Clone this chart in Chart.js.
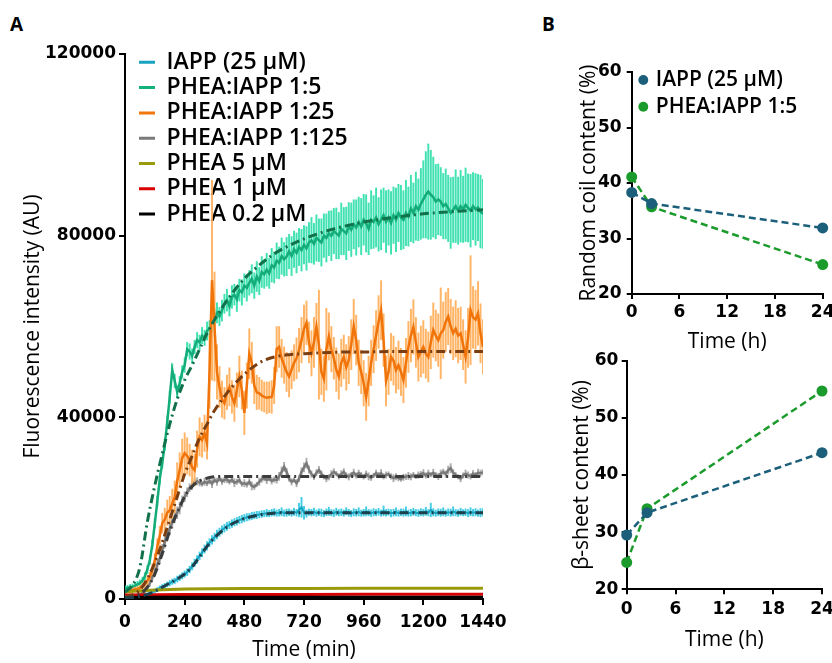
<!DOCTYPE html>
<html><head><meta charset="utf-8">
<script src="https://cdn.jsdelivr.net/npm/chart.js@4.4.1/dist/chart.umd.min.js"></script>
<style>
html,body{margin:0;padding:0;background:#fff;}
body{width:832px;height:663px;position:relative;overflow:hidden;font-family:"Open Sans",sans-serif;}
canvas{position:absolute;}
.lbl{position:absolute;font-family:"Open Sans";font-weight:bold;font-size:19px;line-height:19px;color:#000;}
</style></head><body>
<div class="lbl" style="left:10px;top:15px">A</div>
<div class="lbl" style="left:542px;top:15px">B</div>
<canvas id="cA" width="540" height="663" style="left:0;top:0;width:540px;height:663px"></canvas>
<canvas id="cB1" width="292" height="360" style="left:540px;top:0;width:292px;height:360px"></canvas>
<canvas id="cB2" width="292" height="323" style="left:540px;top:340px;width:292px;height:323px"></canvas>
<script>
// ---------- Panel A data ----------
const time = [0,10,20,30,40,50,60,70,80,90,100,110,120,130,140,150,160,170,180,190,200,210,220,230,240,250,260,270,280,290,300,310,320,330,340,350,360,370,380,390,400,410,420,430,440,450,460,470,480,490,500,510,520,530,540,550,560,570,580,590,600,610,620,630,640,650,660,670,680,690,700,710,720,730,740,750,760,770,780,790,800,810,820,830,840,850,860,870,880,890,900,910,920,930,940,950,960,970,980,990,1000,1010,1020,1030,1040,1050,1060,1070,1080,1090,1100,1110,1120,1130,1140,1150,1160,1170,1180,1190,1200,1210,1220,1230,1240,1250,1260,1270,1280,1290,1300,1310,1320,1330,1340,1350,1360,1370,1380,1390,1400,1410,1420,1430,1440];

const iapp = [200,200,250,300,350,450,550,700,850,1000,
1300,1500,1800,2100,2400,2700,2900,3200,3500,3800,
4000,4400,4700,5100,5500,5900,6500,7200,8000,8700,
9500,10200,11000,11700,12400,13000,13600,14200,14700,15200,
15600,16000,16300,16600,16900,17100,17400,17600,17800,18000,
18100,18300,18400,18500,18600,18700,18800,18900,18800,19000,
19100,18900,19000,19200,18900,19000,19100,18900,19200,19000,
19600,20200,19000,18800,19100,19000,19200,18900,19100,19000,
18800,19100,19300,19000,18900,19200,19000,19100,18900,19300,
19000,18800,19100,19000,19200,18900,19000,19300,19000,18900,
19100,19000,19200,18900,19400,19000,19100,18900,19000,19200,
18900,19100,19000,19300,18900,19000,19200,19000,18900,19100,
19000,19300,19000,19600,19100,18900,19100,19000,19200,18900,
19100,19000,19300,19000,18900,19200,19000,19100,18900,19200,
19000,19100,18900,19000,19100];
const iappErr = [150,150,200,200,200,250,250,300,300,350,
400,400,450,450,500,500,550,550,600,600,
600,650,650,700,700,750,750,800,800,850,
850,900,900,950,900,950,900,950,900,900,
850,900,800,850,800,850,800,850,800,800,
750,800,750,800,700,750,700,800,700,750,
800,700,750,900,700,800,750,700,800,750,
1500,2200,1400,800,700,750,800,700,750,800,
700,750,900,700,750,800,700,750,700,800,
750,700,800,750,900,700,750,1000,700,750,
800,700,750,700,1100,750,700,800,750,900,
700,750,800,1000,700,750,800,700,750,800,
750,900,700,1500,800,700,750,800,900,700,
750,800,1000,700,750,800,700,750,800,900,
750,800,700,900,800];

const phea15 = [2400,2500,2600,2700,2900,3200,3500,4000,5000,6500,
8600,12000,16700,21500,26500,30000,34000,39000,44500,50400,
48000,45600,47500,50000,51500,55000,54500,53500,55500,57000,
56500,58000,57500,59000,59500,60500,62000,63000,62200,63500,
65000,65800,64500,66500,67000,66000,68000,67500,69000,68500,
69600,70500,69000,71000,70000,72000,71500,72500,71700,73500,
73000,74500,74000,75500,74800,75400,76500,75500,77000,76200,
77500,76800,78000,77200,78500,79000,78200,79500,79000,78500,
80000,79500,80500,80000,81000,80500,80000,81500,81000,80500,
82000,81300,82500,81800,83000,82000,83500,82700,81500,83500,
83000,84000,82500,83500,84500,83100,84000,82800,84500,83500,
85000,84000,83500,85000,84200,86000,85000,86500,85700,87000,
88000,89000,89700,89000,88500,87500,88000,87500,86500,87000,
86000,85000,85700,86500,85500,86500,85800,86800,86100,85500,
86500,85800,86200,85300,84800];
const phea15Err = [500,500,600,600,600,700,700,800,800,900,
1000,1000,1100,1100,1200,1200,1300,1300,1400,1400,
1500,1300,1500,1400,1600,1500,1700,1600,1500,1700,
1600,1800,1700,2000,1800,2100,1900,2200,2000,2300,
2100,2400,2200,2500,2300,2700,2400,2800,2600,2900,
2700,3100,2800,3300,3000,3400,3100,3600,3300,3700,
3400,3900,3500,4000,3700,4200,3800,4300,4000,4400,
4100,4600,4200,4800,4400,5000,4500,5100,4700,5200,
4800,5300,4900,5500,5000,5600,5100,5700,5200,5800,
5300,5900,5400,6100,5500,6200,5600,6300,5700,6400,
5800,6500,5900,6600,6000,6800,6100,6900,6200,7000,
6300,7100,6400,7200,6500,7300,6600,7500,6800,7800,
8500,9500,10500,9800,8800,8200,7800,7500,7200,7700,
7300,7800,7200,8000,7400,7900,7300,8100,7500,8000,
7400,7900,7300,8000,7600];

const phea125 = [1500,1700,1800,2000,2100,2200,2400,2800,3300,4000,
4900,6500,8500,11500,14000,16700,17500,19000,19600,21000,
22500,26000,28400,31000,32100,31500,30600,29000,28400,33000,
35700,35000,36500,34300,50000,70200,60000,50000,46700,44000,
43100,45500,46700,44500,43100,46000,49000,46000,41000,47000,
54000,52000,47000,45500,45300,44800,44500,44300,44400,44500,
47000,55000,55500,53000,51500,50000,49000,50500,52000,53000,
54800,57000,59500,60800,56500,54100,56500,59900,56000,50000,
48500,55000,57800,55000,53000,50500,49000,52000,53300,51000,
52600,56000,60000,57000,52000,50000,47500,44500,48000,52000,
55000,58000,61000,63600,57000,48000,50000,53300,52500,50400,
51500,50000,48200,52000,55500,58000,59900,56500,53300,54500,
55500,54000,53300,56500,59200,58000,57000,58500,59200,61000,
62200,60000,58500,59500,58000,58500,56000,53300,57500,63600,
62000,61500,62900,58500,55500];
const phea125Err = [400,400,500,500,500,600,600,700,800,900,
1000,1200,1500,1800,2000,2200,2500,2800,3000,3200,
3500,4000,3800,4200,4500,4000,3500,3800,3500,4000,
4200,3800,4000,3500,8000,22000,12000,6000,4500,4000,
3500,3800,4200,3600,4000,3800,4500,4200,4800,5000,
5500,4500,4000,3800,3500,3400,3300,3500,3400,3600,
4000,5000,4500,4200,4000,4300,4500,4200,4000,4500,
4800,5000,5200,4800,4500,5000,5500,5200,12000,5000,
5000,9000,5200,5000,4600,4800,5000,5200,4800,5000,
5200,5500,6000,5500,5000,4800,5000,5200,5500,5000,
5200,5500,5800,6500,5800,5500,5000,5200,5400,5000,
5300,5200,5000,5400,5600,5800,6000,5500,5300,5600,
5800,5400,5500,5800,6000,5600,5800,10000,6200,6500,
6200,6000,5800,6200,6000,5800,5500,5800,6500,12000,
6800,6500,7000,6500,6000];

const phea1125 = [300,400,450,500,600,800,1000,1300,1700,2500,
3500,4800,6000,7500,9000,10800,12500,14000,15500,17000,
18200,19000,20000,21500,22500,23500,24500,25000,25800,25900,
25600,25300,25800,25500,26000,25400,26200,25800,26500,25900,
26200,26400,25800,26300,25600,25800,26200,25300,25500,25200,
25800,24900,24700,25200,25800,26400,26600,26200,26500,26000,
26300,26200,27000,28000,29100,28000,26500,25800,26200,25500,
26500,28000,29000,29900,28500,27500,26900,27800,28400,27600,
26900,26500,26800,27500,28000,27600,27000,27500,28000,27200,
26900,27400,27800,27200,27700,27300,26900,27500,27000,26700,
27200,27700,27300,27700,27000,27300,27500,27000,26600,26900,
26600,26400,26800,26900,27100,26900,27300,27000,27300,27500,
27700,27200,27700,27400,27800,27300,27000,27600,28000,27500,
28400,28800,27800,27300,26900,26500,27200,27600,27300,27000,
27600,27300,27800,27700,27900];
const phea1125Err = [200,200,200,250,250,300,300,400,500,600,
700,800,900,1000,1100,1200,1300,1300,1400,1400,
1400,1300,1300,1200,1100,1000,900,900,800,800,
700,500,800,600,700,900,600,800,500,700,
600,800,500,700,900,600,700,500,800,600,
700,900,600,500,800,700,600,800,500,700,
600,700,900,1100,1000,800,600,700,500,800,
700,900,1000,1100,800,700,600,700,800,600,
500,700,600,800,700,500,600,800,700,600,
700,500,800,600,700,600,500,700,800,600,
500,700,600,800,600,700,500,600,800,700,
600,500,700,600,800,700,600,500,700,600,
800,600,700,500,800,600,700,800,600,700,
900,1000,700,600,500,700,600,800,700,600,
700,600,800,700,600];

// fitted curves
const fitTime = [0,30,60,90,120,150,180,210,240,270,300,330,360,420,480,540,600,660,720,780,840,900,960,1080,1200,1320,1440];
const iappFit = [200,300,550,1000,1700,2600,3500,4400,5500,7100,9300,11600,13500,16200,17700,18500,18900,19000,19000,19000,19000,19000,19000,19000,19000,19000,19000];
const phea15Fit = [1500,3000,7000,17000,25000,32000,38500,44000,48200,51500,55000,58500,61500,66500,70500,73500,76000,77800,79300,80500,81500,82300,83000,84000,84800,85300,85700];
const phea125Fit = [500,900,2000,4500,8000,12500,17500,22500,27500,31500,35500,38500,41500,46000,49500,52000,53300,53800,54000,54200,54300,54400,54400,54500,54500,54500,54500];
const phea1125Fit = [300,500,1100,2600,5500,10000,15000,19000,22500,24800,26000,26600,26900,27000,27000,27000,27000,27000,27000,27000,27000,27000,27000,27000,27000,27000,27000];

// PHEA alone controls
const flatTime = [0,120,240,480,720,960,1200,1440];
const phea5uM = [1600,2000,2200,2300,2300,2350,2350,2350];
const phea1uM = [900,950,1000,1000,1000,1050,1050,1050];
const phea02uM = [350,400,400,400,400,400,400,400];

const xTicksA = [0,240,480,720,960,1200,1440];
const yTicksA = [0,40000,80000,120000];
const legendNamesA = ['IAPP (25 \u00B5M)','PHEA:IAPP 1:5','PHEA:IAPP 1:25','PHEA:IAPP 1:125','PHEA 5 \u00B5M','PHEA 1 \u00B5M','PHEA 0.2 \u00B5M'];
const legendColorsA = ['#17a2c0','#14b07c','#f2780e','#7a7a7a','#9a9a0a','#d80000','#000000'];

// ---------- Panel B data ----------
const bTime = [0,2.5,24];
const coilIAPP = [38.3,36.3,31.9];
const coilPHEA = [41.1,35.7,25.3];
const sheetIAPP = [29.5,33.4,43.9];
const sheetPHEA = [24.7,34.1,54.7];
const legendNamesB = ['IAPP (25 \u00B5M)','PHEA:IAPP 1:5'];
const colIAPP_B = '#1c5f7a';
const colPHEA_B = '#1a9b2c';

// ---------- helpers ----------
const pts = (tt, v) => tt.map((t, i) => ({x: t, y: v[i]}));
const errs = (tt, v, e) => tt.map((t, i) => ({x: t, y: [v[i] - e[i], v[i] + e[i]]}));
const fontTick = {family: '"DejaVu Sans"', weight: 'bold', size: 17};
const fontTitle = {family: '"Open Sans"', size: 21};

const legendPos = {
  id: 'legendPos',
  afterLayout(chart, args, opts) {
    if (chart.legend && opts && opts.x != null) {
      chart.legend.left = opts.x;
      chart.legend.top = opts.y;
      chart.legend.bottom = chart.height;
      chart.legend.right = chart.width;
    }
  }
};

function axisCommon(extra) {
  return Object.assign({
    offset: false,
    grid: {display: true, drawOnChartArea: false, drawTicks: true, tickLength: 6, color: '#000', lineWidth: 2, offset: false},
    border: {display: true, color: '#000', width: 2},
  }, extra);
}

const errBar = (v, e, color, order) => ({
  type: 'bar', data: errs(time, v, e), backgroundColor: color, borderWidth: 0,
  barThickness: 1.3, grouped: false, order: order
});
const mainLine = (tt, v, color, order, w) => ({
  type: 'line', data: pts(tt, v), borderColor: color, backgroundColor: color,
  borderWidth: w || 2.5, pointRadius: 0, tension: 0, order: order
});
const fitLine = (v, color) => ({
  type: 'line', data: pts(fitTime, v), borderColor: color, borderWidth: 3,
  borderDash: [9, 4, 2, 4], pointRadius: 0, cubicInterpolationMode: 'monotone', order: 1
});

// ---------- Chart A ----------
new Chart(document.getElementById('cA'), {
  type: 'line',
  data: {datasets: [
    errBar(iapp, iappErr, 'rgba(50,200,225,0.9)', 20),
    mainLine(time, iapp, '#17a2c0', 19, 2),
    errBar(phea1125, phea1125Err, 'rgba(165,165,165,0.9)', 18),
    mainLine(time, phea1125, '#7a7a7a', 17, 2.5),
    errBar(phea15, phea15Err, 'rgba(45,222,170,0.9)', 16),
    mainLine(time, phea15, '#14ac78', 15, 2.5),
    errBar(phea125, phea125Err, 'rgba(255,172,85,0.9)', 14),
    mainLine(time, phea125, '#f0740a', 13, 2.5),
    mainLine(flatTime, phea5uM, '#9a9a0a', 12, 3),
    mainLine(flatTime, phea1uM, '#d80000', 11, 3),
    mainLine(flatTime, phea02uM, '#000000', 10, 3),
    fitLine(iappFit, '#1d3f4c'),
    fitLine(phea1125Fit, '#3c3c3c'),
    fitLine(phea15Fit, '#11714a'),
    fitLine(phea125Fit, '#7a3e10')
  ]},
  plugins: [legendPos],
  options: {
    responsive: false, animation: false, devicePixelRatio: 1,
    layout: {padding: {left: 0, top: 54, right: 57, bottom: 0}},
    plugins: {
      tooltip: {enabled: false},
      legend: {
        position: 'chartArea', align: 'start',
        labels: {
          font: {family: '"Open Sans"', size: 23, weight: '600'}, color: '#000',
          boxWidth: 16, boxHeight: 3, padding: 2.3,
          generateLabels: () => legendNamesA.map((n, i) => ({text: n, fillStyle: legendColorsA[i], strokeStyle: legendColorsA[i], lineWidth: 0, hidden: false, fontColor: '#000'}))
        }
      },
      legendPos: {x: 136.7, y: 48.5}
    },
    scales: {
      x: axisCommon({
        type: 'linear', min: xTicksA[0], max: xTicksA[xTicksA.length - 1],
        afterBuildTicks: s => { s.ticks = xTicksA.map(v => ({value: v})); },
        ticks: {font: fontTick, color: '#000', padding: 7.8, maxRotation: 0, autoSkip: false, callback: v => String(v)},
        title: {display: true, text: 'Time (min)', font: fontTitle, color: '#000', padding: {top: 0, bottom: 0.4}},
        afterFit: s => { s.height = 64; s.paddingLeft = 0; s.paddingRight = 0; }
      }),
      y: axisCommon({
        type: 'linear', min: yTicksA[0], max: yTicksA[yTicksA.length - 1],
        afterBuildTicks: s => { s.ticks = yTicksA.map(v => ({value: v})); },
        ticks: {font: fontTick, color: '#000', padding: 3, callback: v => String(v)},
        title: {display: true, text: 'Fluorescence intensity (AU)', font: fontTitle, color: '#000', padding: {top: 20.4, bottom: 0}},
        afterFit: s => { s.width = 125; s.paddingTop = 0; s.paddingBottom = 0; }
      })
    }
  }
});

// ---------- Chart B ----------
function bDataset(v, color) {
  return {
    type: 'line', data: pts(bTime, v), borderColor: color, backgroundColor: color,
    borderWidth: 2.5, borderDash: [7, 4], pointRadius: 5.5, pointBorderWidth: 0,
    pointBackgroundColor: color, clip: false, tension: 0
  };
}
function bOptions(cfg) {
  return {
    responsive: false, animation: false, devicePixelRatio: 1,
    layout: {padding: {left: 0, top: cfg.top, right: cfg.right, bottom: 0}},
    plugins: {
      tooltip: {enabled: false},
      legend: cfg.legend ? {
        position: 'chartArea', align: 'start',
        labels: {
          font: {family: '"Open Sans"', size: 21, weight: '600'}, color: '#000',
          usePointStyle: true, boxWidth: 4, boxHeight: 7, padding: 5.7,
          generateLabels: () => legendNamesB.map((n, i) => {
            const c = i === 0 ? colIAPP_B : colPHEA_B;
            return {text: n, fillStyle: c, strokeStyle: c, lineWidth: 0, pointStyle: 'circle', hidden: false, fontColor: '#000'};
          })
        }
      } : {display: false},
      legendPos: cfg.legend ? {x: cfg.lx, y: cfg.ly} : {}
    },
    scales: {
      x: axisCommon({
        type: 'linear', min: 0, max: 24,
        grid: {display: true, drawOnChartArea: false, drawTicks: true, tickLength: 5, color: '#000', lineWidth: 2, offset: false},
        ticks: {stepSize: 6, font: fontTick, color: '#000', padding: cfg.xtp, maxRotation: 0, autoSkip: false},
        title: {display: true, text: 'Time (h)', font: fontTitle, color: '#000', padding: {top: 0, bottom: cfg.xpb}},
        afterFit: s => { s.height = cfg.xh; s.paddingLeft = 0; s.paddingRight = 0; }
      }),
      y: axisCommon({
        type: 'linear', min: 20, max: 60,
        grid: {display: true, drawOnChartArea: false, drawTicks: true, tickLength: 5, color: '#000', lineWidth: 2, offset: false},
        ticks: {stepSize: 10, font: fontTick, color: '#000', padding: cfg.ytp},
        title: {display: true, text: cfg.ytitle, font: fontTitle, color: '#000', padding: {top: cfg.ypt, bottom: 0}},
        afterFit: s => { s.width = cfg.yw; s.paddingTop = 0; s.paddingBottom = 0; }
      })
    }
  };
}

new Chart(document.getElementById('cB1'), {
  type: 'line',
  data: {datasets: [bDataset(coilIAPP, colIAPP_B), bDataset(coilPHEA, colPHEA_B)]},
  plugins: [legendPos],
  options: bOptions({top: 72, right: 9.3, yw: 91.7, xh: 66, xtp: 3.8, xpb: 5.4, ytp: 5, ypt: 36.4,
    ytitle: 'Random coil content (%)', legend: true, lx: 95.6, ly: 63.8})
});

new Chart(document.getElementById('cB2'), {
  type: 'line',
  data: {datasets: [bDataset(sheetIAPP, colIAPP_B), bDataset(sheetPHEA, colPHEA_B)]},
  plugins: [legendPos],
  options: bOptions({top: 20.7, right: 10, yw: 86.7, xh: 73.7, xtp: 5.5, xpb: 10.4, ytp: 3.4, ypt: 29.1,
    ytitle: '\u03B2-sheet content (%)', legend: false})
});
</script>
</body></html>
